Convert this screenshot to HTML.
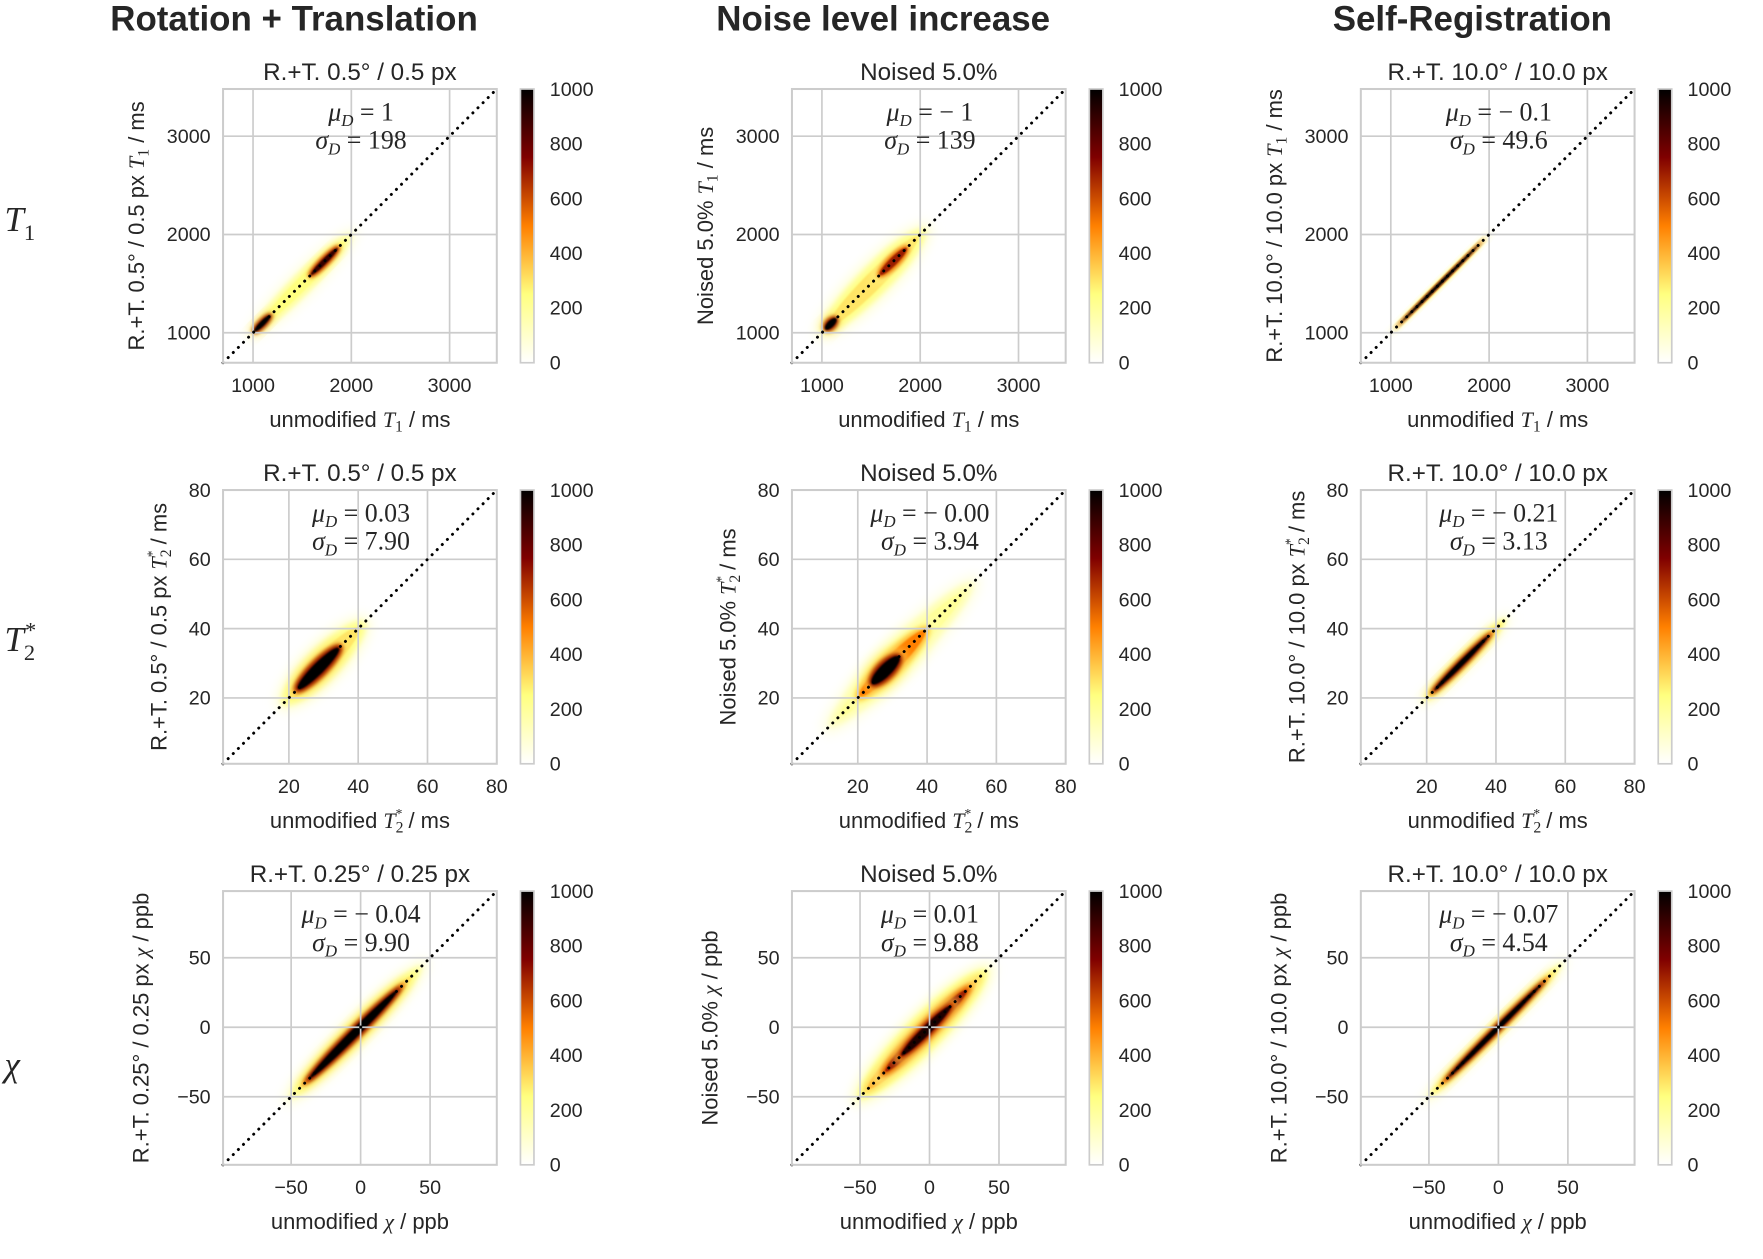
<!DOCTYPE html>
<html><head><meta charset="utf-8"><style>
html,body{margin:0;padding:0;background:#fff;}
svg{display:block;}
text{font-family:"Liberation Sans",sans-serif;fill:#262626;}
.m{font-family:"Liberation Serif",serif;}
</style></head><body>
<svg id="fig" width="1763" height="1259" viewBox="0 0 1565 1117.6" xmlns="http://www.w3.org/2000/svg">
<defs>
<linearGradient id="cmap" x1="0" y1="1" x2="0" y2="0">
<stop offset="0" stop-color="#ffffff"/><stop offset="0.25" stop-color="#ffff80"/><stop offset="0.5" stop-color="#ff8000"/><stop offset="0.75" stop-color="#800000"/><stop offset="1" stop-color="#000000"/>
</linearGradient>
<filter id="b1" x="-50%" y="-50%" width="200%" height="200%"><feGaussianBlur stdDeviation="5"/></filter>
<filter id="b2" x="-50%" y="-50%" width="200%" height="200%"><feGaussianBlur stdDeviation="2"/></filter>
<filter id="b3" x="-50%" y="-50%" width="200%" height="200%"><feGaussianBlur stdDeviation="0.8"/></filter>
</defs>
</svg>
<script>
// ---- data ----
const colHeaders = ["Rotation + Translation","Noise level increase","Self-Registration"];
const rowLabels = ["T1","T2*","χ"];
const axisMin = [695, 1, -99];
const axisMax = [3480, 80, 98];
const tickVals = [[1000,2000,3000],[20,40,60,80],[-50,0,50]];
const tickText = [["1000","2000","3000"],["20","40","60","80"],["−50","0","50"]];
const cbarTicks = [0,200,400,600,800,1000];
const panelTitles = [["R.+T. 0.5° / 0.5 px","Noised 5.0%","R.+T. 10.0° / 10.0 px"],
                     ["R.+T. 0.5° / 0.5 px","Noised 5.0%","R.+T. 10.0° / 10.0 px"],
                     ["R.+T. 0.25° / 0.25 px","Noised 5.0%","R.+T. 10.0° / 10.0 px"]];
const muVals = [["1","− 1","− 0.1"],["0.03","− 0.00","− 0.21"],["− 0.04","0.01","− 0.07"]];
const sigmaVals = [["198","139","49.6"],["7.90","3.94","3.13"],["9.90","9.88","4.54"]];
// blobs: [row][col] list of [startVal, endVal, halfWidth(data), peakDensity]
const blobs = [
 [[[950,2050,140,250],[1550,1900,60,900],[990,1200,55,1000]],
  [[950,2100,200,300],[1550,1900,90,700],[1020,1160,75,1000]],
  [[980,2020,35,350],[1000,2000,20,1000]]],
 [[[17,43,6,300],[21,36,3.5,1000]],
  [[10,55,6,200],[18,42,5,500],[23,33,3.8,1000]],
  [[18,44,2.6,350],[20,40,1.6,1000]]],
 [[[-55,48,11,300],[-45,35,6.5,1000]],
  [[-55,45,15,400],[-40,35,10,700],[-25,20,7,950]],
  [[-55,50,6,350],[-45,40,3.8,1000]]]
];
// ---- layout ----
const NS="http://www.w3.org/2000/svg";
const svg=document.getElementById('fig');
const colX=[198,703,1208], rowY=[79,435,791], W=243, H=243;
function mk(tag,attrs,parent,txt){const e=document.createElementNS(NS,tag);for(const k in attrs)e.setAttribute(k,attrs[k]);if(txt!==undefined)e.textContent=txt;(parent||svg).appendChild(e);return e;}
function cmap(v){const x=1-v/1000;const c=t=>Math.round(255*Math.max(0,Math.min(1,t)));return `rgb(${c(2*x)},${c(2*x-0.5)},${c(2*x-1)})`;}
const headerX=[261,784,1307];
colHeaders.forEach((h,i)=>{const t=mk('text',{x:headerX[i],y:27,'text-anchor':'middle','font-size':31,'font-weight':'bold'},svg,h);

});
const rl=[["T","1",""],["T","2","*"],["χ","",""]];const rlY=[205,578,955];
rl.forEach((r,i)=>{const t=mk('text',{x:4,y:rlY[i],'font-size':31,'font-style':'italic','class':'m'});


mk('tspan',{},t,r[0]);if(r[1])mk('tspan',{'font-size':20,'font-style':'normal',dy:8},t,r[1]);if(r[2])mk('tspan',{'font-size':20,dy:-20,dx:-10},t,r[2]);});
const qty=[["T","1"],["T","2*"],["χ",""]];
const unit=[" / ms"," / ms"," / ppb"];
function addQty(t,r){mk('tspan',{'class':'m','font-style':'italic'},t,qty[r][0]);
 if(r===0)mk('tspan',{'class':'m','font-size':14,dy:4},t,"1");
 if(r===1){mk('tspan',{'class':'m','font-size':14,dy:4},t,"2");mk('tspan',{'class':'m','font-size':12,dy:-13,dx:-7},t,"*");mk('tspan',{dy:9},t," ");}
 mk('tspan',{dy:(r===0?-4:0)},t,unit[r]);}
for(let r=0;r<3;r++)for(let c=0;c<3;c++){
 const x0=colX[c],y0=rowY[r],mn=axisMin[r],mx=axisMax[r];
 const sx=v=>x0+(v-mn)/(mx-mn)*W, sy=v=>y0+H-(v-mn)/(mx-mn)*H;
 const g=mk('g',{});
 
 
 const cid=`clip${r}${c}`;const cp=mk('clipPath',{id:cid},g);mk('rect',{x:x0,y:y0,width:W,height:H},cp);
 mk('rect',{x:x0,y:y0,width:W,height:H,fill:'#fff'},g);
 const dg=mk('g',{'clip-path':`url(#${cid})`},g);
 blobs[r][c].forEach(b=>{
  const [a,e,hw,pk]=b;const cx=(sx(a)+sx(e))/2, cy=(sy(a)+sy(e))/2;
  const len=Math.hypot(sx(e)-sx(a),sy(e)-sy(a))/2;const wpx=hw/(mx-mn)*W;
  const layers=[[1.0,0.3,'b1'],[0.8,0.55,'b2'],[0.62,0.8,'b2'],[0.45,1.0,'b3']];
  layers.forEach(([s,f,fl])=>{const el=mk('ellipse',{cx:cx,cy:cy,rx:Math.max(len*(0.6+0.4*s),1),ry:Math.max(wpx*s,1.2),fill:cmap(pk*f),filter:`url(#${fl})`,transform:`rotate(-45 ${cx} ${cy})`},dg);
   
   });
 });
 tickVals[r].forEach((v,i)=>{
  if(sx(v)<x0+W-1)mk('line',{x1:sx(v),x2:sx(v),y1:y0,y2:y0+H,stroke:'#cccccc','stroke-width':1.5},g);
  if(sy(v)>y0+1)mk('line',{x1:x0,x2:x0+W,y1:sy(v),y2:sy(v),stroke:'#cccccc','stroke-width':1.5},g);
  const tx=mk('text',{x:sx(v),y:y0+H+26,'text-anchor':'middle','font-size':17.5},g,tickText[r][i]);
  
  
  const ty=mk('text',{x:x0-11,y:sy(v)+6,'text-anchor':'end','font-size':17.5},g,tickText[r][i]);
  
  
 });
 const dl=mk('line',{x1:sx(mn),y1:sy(mn),x2:sx(mx),y2:sy(mx),stroke:'#000','stroke-width':2.6,'stroke-dasharray':'0.1 6.3','stroke-linecap':'round'},g);
 
 
 mk('rect',{x:x0,y:y0,width:W,height:H,fill:'none',stroke:'#cccccc','stroke-width':1.8},g);
 const st=mk('text',{x:x0+W/2+1,y:y0+28,'text-anchor':'middle','font-size':23,'class':'m'},g);
 
 
 mk('tspan',{'font-style':'italic'},st,'μ');mk('tspan',{'font-size':15,'font-style':'italic',dy:5},st,'D');mk('tspan',{dy:-5},st,' = '+muVals[r][c]);
 const s2=mk('text',{x:x0+W/2+1,y:y0+53,'text-anchor':'middle','font-size':23,'class':'m'},g);
 
 
 mk('tspan',{'font-style':'italic'},s2,'σ');mk('tspan',{'font-size':15,'font-style':'italic',dy:5},s2,'D');mk('tspan',{dy:-5},s2,' = '+sigmaVals[r][c]);
 const ti=mk('text',{x:x0+W/2,y:y0-8,'text-anchor':'middle','font-size':21.5},g,panelTitles[r][c]);
 
 
 const xl=mk('text',{x:x0+W/2,y:y0+H+57,'text-anchor':'middle','font-size':19.5},g);
 
 
 mk('tspan',{},xl,'unmodified ');addQty(xl,r);
 const pref=c===1?'Noised 5.0% ':panelTitles[r][c]+' ';
 const yx=x0-(r===0?70:(r===1?50:66)), yc=y0+H/2;
 const yl=mk('text',{x:yx,y:yc,'text-anchor':'middle','font-size':19.5,transform:`rotate(-90 ${yx} ${yc})`},g);
 
 
 mk('tspan',{},yl,pref);addQty(yl,r);
 const cbx=x0+264;
 const cb=mk('rect',{x:cbx,y:y0,width:12,height:H,fill:'url(#cmap)',stroke:'#cccccc','stroke-width':1.5},g);
 
 
 cbarTicks.forEach(v=>{const t=mk('text',{x:cbx+26,y:y0+H-v/1000*H+6,'font-size':17.5},g,String(v));
  
  });
}
</script>
</body></html>
